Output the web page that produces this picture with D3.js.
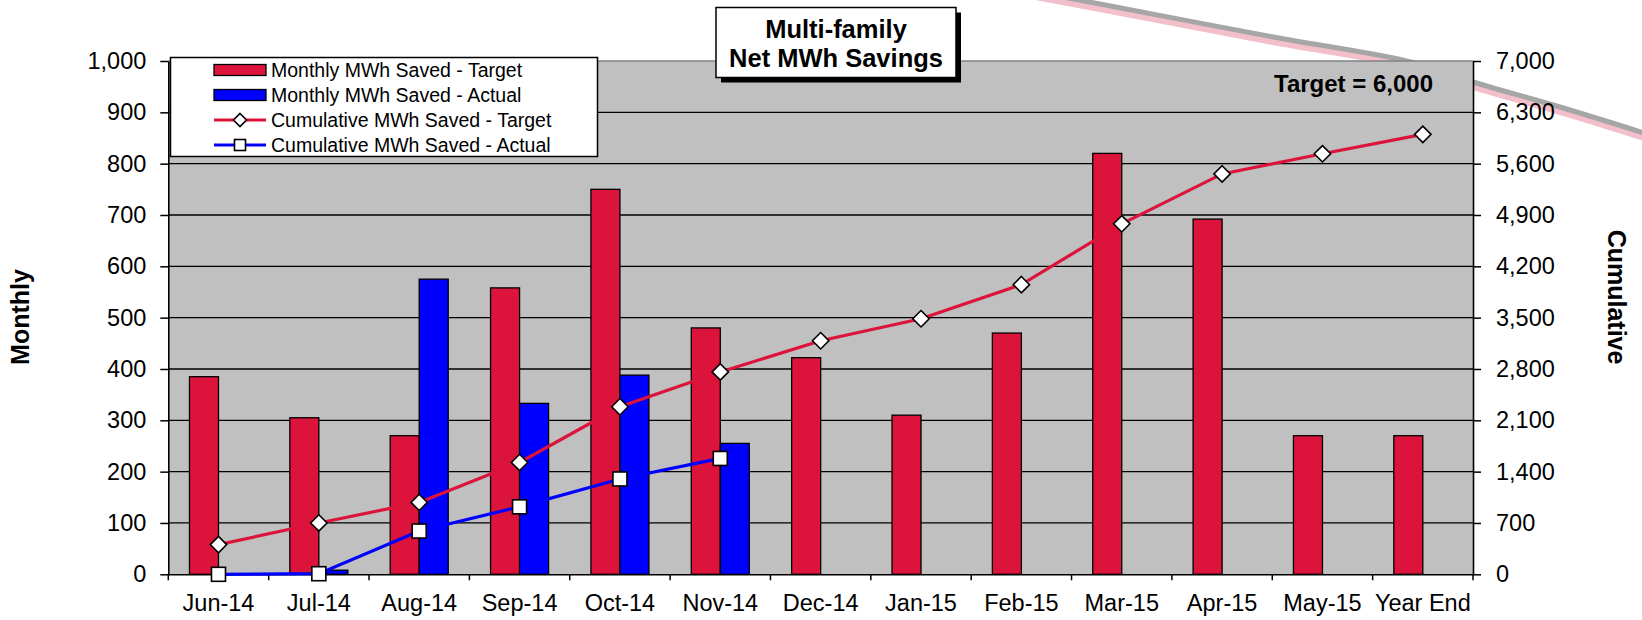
<!DOCTYPE html>
<html><head><meta charset="utf-8">
<script src="https://cdn.jsdelivr.net/npm/d3@7"></script>
<style>
body{margin:0;background:#fff}
svg{display:block}
text{font-family:"Liberation Sans",Arial,sans-serif;fill:#000}
</style>
</head><body>
<svg id="c" width="1642" height="620"></svg>
<script>
// ---- data ----
const categories = ["Jun-14","Jul-14","Aug-14","Sep-14","Oct-14","Nov-14","Dec-14","Jan-15","Feb-15","Mar-15","Apr-15","May-15","Year End"];
const monthlyTarget = [385, 305, 270, 558, 750, 480, 422, 310, 470, 820, 692, 270, 270];
const monthlyActual = [0, 8, 575, 333, 388, 255];
const cumulativeTarget = [405, 700, 980, 1525, 2285, 2760, 3185, 3485, 3950, 4780, 5460, 5735, 6000];
const cumulativeActual = [0, 8, 590, 920, 1300, 1580];
const leftTicks = [0, 100, 200, 300, 400, 500, 600, 700, 800, 900, 1000];
const rightTicks = [0, 700, 1400, 2100, 2800, 3500, 4200, 4900, 5600, 6300, 7000];
const seriesNames = ["Monthly MWh Saved - Target","Monthly MWh Saved - Actual","Cumulative MWh Saved - Target","Cumulative MWh Saved - Actual"];
const titleLines = ["Multi-family","Net MWh Savings"];
const targetLabel = "Target = 6,000";
const leftTitle = "Monthly";
const rightTitle = "Cumulative";

// ---- layout ----
const RED = "#DC143C", BLUE = "#0000FF", PLOT_BG = "#C0C0C0";
const L = 168.3, R = 1473, T = 61, B = 574.3;
const svg = d3.select("#c");

const x = d3.scaleBand().domain(categories).range([L, R]).padding(0);
const xs = d3.scaleBand().domain(["target","actual"]).range([0, x.bandwidth()]).paddingInner(0).paddingOuter(0.73);
const yL = d3.scaleLinear().domain([0, 1000]).range([B, T]);
const yR = d3.scaleLinear().domain([0, 7000]).range([B, T]);
const cx = d => x(d) + x.bandwidth() / 2;

// decorative swoosh (background)
const swPts = [[960,-22],[1100,4],[1273,37],[1411,62],[1473,82],[1560,107],[1660,138]];
const swLine = d3.line().curve(d3.curveCatmullRom);
svg.append("path").attr("d", swLine(swPts.map(p => [p[0], p[1] + 4])))
  .attr("fill","none").attr("stroke","#F2BFCB").attr("stroke-width",8);
svg.append("path").attr("d", swLine(swPts))
  .attr("fill","none").attr("stroke","#A6A6A6").attr("stroke-width",5);

// plot area
svg.append("rect").attr("x", L).attr("y", T).attr("width", R - L).attr("height", B - T).attr("fill", PLOT_BG);
svg.append("g").selectAll("line").data(leftTicks.filter(v => v > 0 && v < 1000)).join("line")
  .attr("x1", L).attr("x2", R).attr("y1", d => yL(d)).attr("y2", d => yL(d))
  .attr("stroke", "#000").attr("stroke-width", 1.3);
svg.append("line").attr("x1", L).attr("x2", R).attr("y1", T).attr("y2", T).attr("stroke", "#808080").attr("stroke-width", 1.5);

// bars
const bars = svg.append("g");
bars.selectAll("rect.t").data(monthlyTarget).join("rect").attr("class","t")
  .attr("x", (d,i) => x(categories[i]) + xs("target")).attr("width", xs.bandwidth())
  .attr("y", d => yL(d)).attr("height", d => B - yL(d))
  .attr("fill", RED).attr("stroke", "#000").attr("stroke-width", 1.3);
bars.selectAll("rect.a").data(monthlyActual).join("rect").attr("class","a")
  .attr("x", (d,i) => x(categories[i]) + xs("actual")).attr("width", xs.bandwidth())
  .attr("y", d => yL(d)).attr("height", d => B - yL(d))
  .attr("fill", BLUE).attr("stroke", "#000").attr("stroke-width", 1.3)
  .attr("display", d => d > 0 ? null : "none");

// axes
const axL = svg.append("g").attr("transform", `translate(${L},0)`)
  .call(d3.axisLeft(yL).tickValues(leftTicks).tickFormat(d3.format(",")).tickSize(8).tickSizeOuter(0).tickPadding(14));
const axR = svg.append("g").attr("transform", `translate(${R},0)`)
  .call(d3.axisRight(yR).tickValues(rightTicks).tickFormat(d3.format(",")).tickSize(8).tickSizeOuter(0).tickPadding(15));
const axB = svg.append("g").attr("transform", `translate(0,${B})`)
  .call(d3.axisBottom(x).tickSize(0).tickSizeOuter(0).tickPadding(20.5));
[axL, axR, axB].forEach(g => {
  g.selectAll("path.domain").attr("stroke", "#000").attr("stroke-width", 1.6);
  g.selectAll(".tick line").attr("stroke", "#000").attr("stroke-width", 1.5);
  g.selectAll("text").style("font-size", "23.5px").style("font-family", '"Liberation Sans",Arial,sans-serif').attr("fill", "#000");
});
// category boundary tick marks
svg.append("g").selectAll("line").data(d3.range(categories.length + 1)).join("line")
  .attr("x1", i => L + i * x.step()).attr("x2", i => L + i * x.step())
  .attr("y1", B).attr("y2", B + 6).attr("stroke", "#000").attr("stroke-width", 1.5);

// lines
const lineGen = d3.line().x(d => d[0]).y(d => d[1]);
const ptsT = cumulativeTarget.map((v,i) => [cx(categories[i]), yR(v)]);
const ptsA = cumulativeActual.map((v,i) => [cx(categories[i]), yR(v)]);
svg.append("path").attr("d", lineGen(ptsT)).attr("fill","none").attr("stroke", RED).attr("stroke-width", 3.2);
svg.append("path").attr("d", lineGen(ptsA)).attr("fill","none").attr("stroke", BLUE).attr("stroke-width", 3.2);

const diamond = (g, px, py, r) => g.append("path")
  .attr("d", `M${px},${py - r}L${px + r},${py}L${px},${py + r}L${px - r},${py}Z`)
  .attr("fill", "#fff").attr("stroke", "#000").attr("stroke-width", 1.6);
const square = (g, px, py, s) => g.append("rect")
  .attr("x", px - s/2).attr("y", py - s/2).attr("width", s).attr("height", s)
  .attr("fill", "#fff").attr("stroke", "#000").attr("stroke-width", 1.6);
const mk = svg.append("g");
ptsT.forEach(p => diamond(mk, p[0], p[1], 8.2));
ptsA.forEach(p => square(mk, p[0], p[1], 14));

// axis titles
svg.append("text").attr("transform", "translate(20,317) rotate(-90)")
  .attr("text-anchor","middle").attr("dy","0.35em")
  .style("font-size","25px").style("font-weight","bold").text(leftTitle);
svg.append("text").attr("transform", "translate(1617,297) rotate(90)")
  .attr("text-anchor","middle").attr("dy","0.35em")
  .style("font-size","25px").style("font-weight","bold").text(rightTitle);

// target label
svg.append("text").attr("x", 1433).attr("y", 91.5).attr("text-anchor","end")
  .style("font-size","24px").style("font-weight","bold").text(targetLabel);

// title box
svg.append("rect").attr("x", 721).attr("y", 12.5).attr("width", 240).attr("height", 70).attr("fill", "#000");
svg.append("rect").attr("x", 716).attr("y", 7.5).attr("width", 240).attr("height", 70)
  .attr("fill", "#fff").attr("stroke", "#000").attr("stroke-width", 1.5);
svg.append("g").selectAll("text").data(titleLines).join("text")
  .attr("x", 836).attr("y", (d,i) => 37.5 + i * 29.3).attr("text-anchor","middle")
  .style("font-size","25.5px").style("font-weight","bold").text(d => d);

// legend
const lg = svg.append("g");
lg.append("rect").attr("x", 170.5).attr("y", 57.5).attr("width", 427).attr("height", 99)
  .attr("fill", "#fff").attr("stroke", "#000").attr("stroke-width", 1.5);
const rowY = [70, 95, 120, 145];
const symX0 = 214, symX1 = 266;
[RED, BLUE].forEach((c, i) => {
  lg.append("rect").attr("x", symX0).attr("y", rowY[i] - 5.5).attr("width", symX1 - symX0).attr("height", 11)
    .attr("fill", c).attr("stroke", "#000").attr("stroke-width", 1.3);
});
[RED, BLUE].forEach((c, i) => {
  lg.append("line").attr("x1", symX0).attr("x2", symX1).attr("y1", rowY[i+2]).attr("y2", rowY[i+2])
    .attr("stroke", c).attr("stroke-width", 3.2);
});
diamond(lg, (symX0 + symX1) / 2, rowY[2], 6.5);
square(lg, (symX0 + symX1) / 2, rowY[3], 11);
lg.selectAll("text").data(seriesNames).join("text")
  .attr("x", 271).attr("y", (d,i) => rowY[i] + 7)
  .style("font-size","19.5px").text(d => d);
</script>
</body></html>
